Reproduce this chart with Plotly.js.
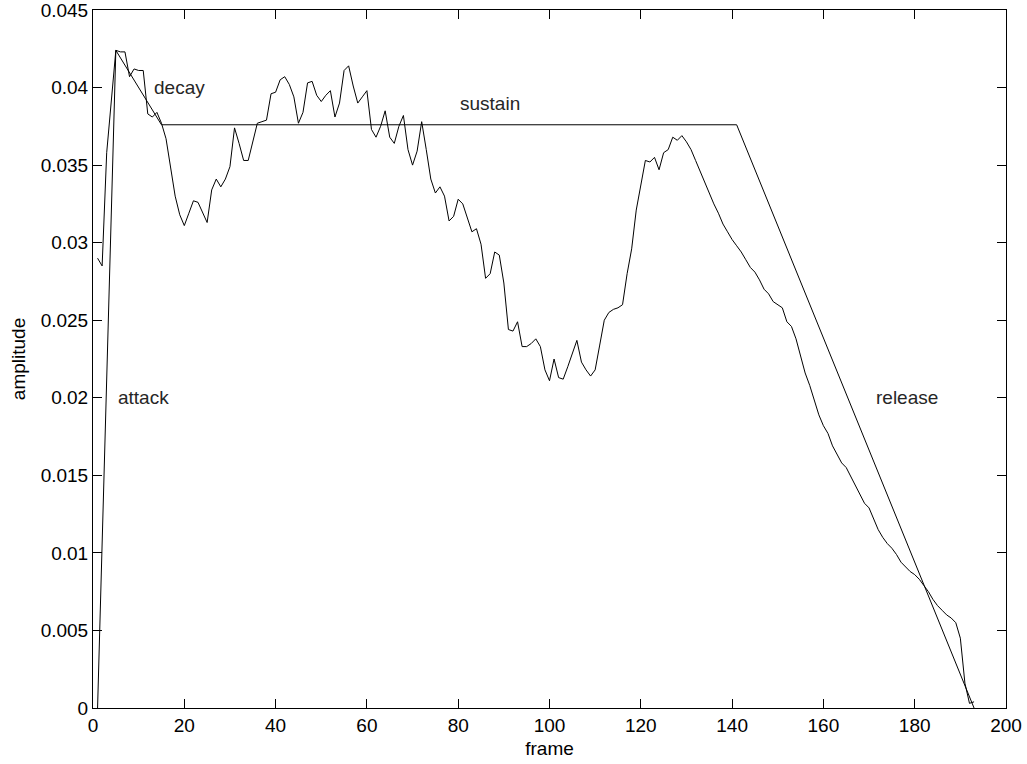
<!DOCTYPE html>
<html>
<head>
<meta charset="utf-8">
<script src="https://cdn.plot.ly/plotly-3.0.1.min.js"></script>
<style>html,body{margin:0;padding:0;background:#fff;}#chart{width:1027px;height:764px;}</style>
</head>
<body>
<div id="chart"></div>
<script>
// Measured amplitude per frame (frames 1..193)
const frames = [];
for (let i = 1; i <= 193; i++) frames.push(i);
const amplitude = [
  0.0290, 0.0285, 0.0358, 0.0392, 0.0424, 0.0423, 0.0423, 0.0407, 0.0412, 0.0411,
  0.0411, 0.0383, 0.0381, 0.0384, 0.0377, 0.0367, 0.0347, 0.0330, 0.0318, 0.0311,
  0.0319, 0.0327, 0.0326, 0.0320, 0.0313, 0.0334, 0.0341, 0.0336, 0.0341, 0.0349,
  0.0374, 0.0364, 0.0353, 0.0353, 0.0365, 0.0377, 0.0378, 0.0379, 0.0396, 0.0397,
  0.0405, 0.0407, 0.0402, 0.0394, 0.0377, 0.0384, 0.0403, 0.0404, 0.0395, 0.0391,
  0.0395, 0.0398, 0.0381, 0.0390, 0.0411, 0.0414, 0.0401, 0.0390, 0.0394, 0.0398,
  0.0373, 0.0368, 0.0375, 0.0385, 0.0368, 0.0364, 0.0375, 0.0382, 0.0360, 0.0350,
  0.0359, 0.0378, 0.0360, 0.0341, 0.0332, 0.0336, 0.0330, 0.0314, 0.0317, 0.0328,
  0.0325, 0.0316, 0.0307, 0.0309, 0.0299, 0.0277, 0.0280, 0.0294, 0.0292, 0.0274,
  0.0244, 0.0243, 0.0249, 0.0233, 0.0233, 0.0235, 0.0238, 0.0233, 0.0218, 0.0211,
  0.0225, 0.0213, 0.0212, 0.0220, 0.0229, 0.0237, 0.0223, 0.0218, 0.0214, 0.0218,
  0.0234, 0.0250, 0.0255, 0.0257, 0.0258, 0.0260, 0.0280, 0.0296, 0.0321, 0.0337,
  0.0353, 0.0352, 0.0355, 0.0347, 0.0358, 0.0360, 0.0368, 0.0366, 0.0369, 0.0365,
  0.0360, 0.0353, 0.0346, 0.0338, 0.0331, 0.0325, 0.0319, 0.0312, 0.0307, 0.0302,
  0.0298, 0.0294, 0.0289, 0.0284, 0.0281, 0.0276, 0.0270, 0.0267, 0.0262, 0.0260,
  0.0258, 0.0249, 0.0246, 0.0238, 0.0227, 0.0216, 0.0208, 0.0198, 0.0189, 0.0182,
  0.0177, 0.0169, 0.0163, 0.0158, 0.0155, 0.0149, 0.0143, 0.0137, 0.0132, 0.0129,
  0.0122, 0.0115, 0.0110, 0.0106, 0.0103, 0.0099, 0.0094, 0.0091, 0.0088, 0.0086,
  0.0083, 0.0079, 0.0075, 0.0070, 0.0066, 0.0063, 0.0060, 0.0058, 0.0055, 0.0045,
  0.0016, 0.0003, 0.0004
];

// ADSR envelope breakpoints
const envFrames = [1, 5, 15, 141, 193];
const envAmp = [0, 0.0424, 0.0376, 0.0376, 0];

// Segment labels
const labelText = ['attack', 'decay', 'sustain', 'release'];
const labelX = [5, 13, 80, 171];
const labelY = [0.020, 0.040, 0.039, 0.020];

// Axis ticks
const xTickVals = [0, 20, 40, 60, 80, 100, 120, 140, 160, 180, 200];
const yTickVals = [0, 0.005, 0.01, 0.015, 0.02, 0.025, 0.03, 0.035, 0.04, 0.045];
const yTickText = ['0', '0.005', '0.01', '0.015', '0.02', '0.025', '0.03', '0.035', '0.04', '0.045'];

const FONT = 'Liberation Sans, Arial, Helvetica, sans-serif';
const FS = 19;

const traces = [
  {x: frames, y: amplitude, type: 'scatter', mode: 'lines',
   line: {color: '#000', width: 1}, hoverinfo: 'skip', showlegend: false},
  {x: envFrames, y: envAmp, type: 'scatter', mode: 'lines',
   line: {color: '#000', width: 1}, hoverinfo: 'skip', showlegend: false}
];

const annotations = labelText.map((t, i) => ({
  x: labelX[i], y: labelY[i], xref: 'x', yref: 'y', text: t,
  showarrow: false, xanchor: 'left', yanchor: 'middle',
  font: {family: FONT, size: FS, color: '#262626'}
}));

const axisCommon = {
  showline: true, linecolor: '#000', linewidth: 1, mirror: 'ticks',
  ticks: 'inside', ticklen: 9, tickcolor: '#000', tickwidth: 1,
  showgrid: false, zeroline: false, ticklabeloverflow: 'allow',
  tickfont: {family: FONT, size: FS, color: '#000'}
};

const layout = {
  width: 1027, height: 764,
  margin: {l: 93, r: 21, t: 10, b: 56, pad: 0},
  paper_bgcolor: '#fff', plot_bgcolor: '#fff',
  font: {family: FONT, size: FS, color: '#000'},
  xaxis: Object.assign({}, axisCommon, {
    range: [0, 200], tickvals: xTickVals,
    title: {text: 'frame', font: {family: FONT, size: FS, color: '#000'}, standoff: 6}
  }),
  yaxis: Object.assign({}, axisCommon, {
    range: [0, 0.045], tickvals: yTickVals, ticktext: yTickText,
    title: {text: 'amplitude', font: {family: FONT, size: FS, color: '#000'}, standoff: 10}
  }),
  annotations: annotations
};

Plotly.newPlot('chart', traces, layout, {staticPlot: true, displayModeBar: false});
</script>
</body>
</html>
